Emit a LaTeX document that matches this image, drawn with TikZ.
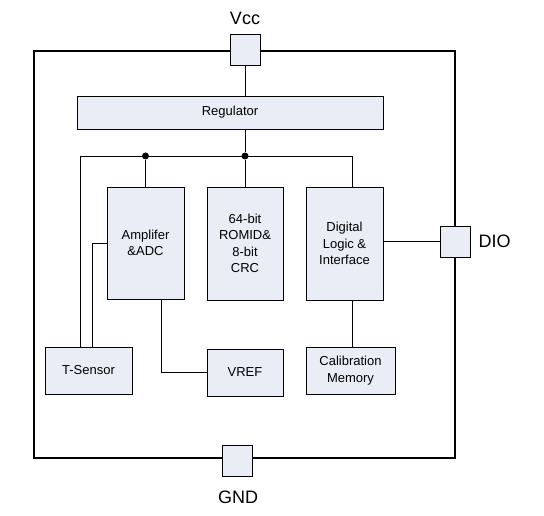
\documentclass[tikz,border=0pt]{standalone}
\usepackage{fontspec}
\setmainfont{Liberation Sans}
\usepackage{tikz}
\usetikzlibrary{positioning,calc}
\definecolor{boxfill}{HTML}{E9EDF6}

\begin{document}
\begin{tikzpicture}[x = 1pt, y = -1pt,
    block/.style = {draw, fill = boxfill, line width = .9pt, align = center, inner sep = 0pt, font = \fontsize{13}{16.5}\selectfont},
    pad/.style = {draw, fill = boxfill, line width = .9pt, minimum width = 30pt, minimum height = 31pt, inner sep = 0pt},
    pin/.style = {font = \fontsize{18}{20}\selectfont},
    wire/.style = {line width = .8pt},
    junction/.style = {circle, fill, inner sep = 0pt, minimum size = 7pt}]
    \useasboundingbox (0,0) rectangle (544,516);
    % chip outline
    \draw[line width = 2.6pt] (34,51) rectangle (455,458);
    % pads
    \node[pad] (vcc) at (245,50) {};
    \node[pad] (dio) at (455,241.5) {};
    \node[pad] (gnd) at (237.5,461) {};
    \node[pin] (vcclabel) at (245,18) {Vcc};
    \node[pin, anchor = west] (diolabel) at (475,241.5) {DIO};
    \node[pin] (gndlabel) at (238,497) {GND};
    % blocks
    \node[block, minimum width = 306pt, minimum height = 33pt] (reg) at (230,112.5) {Regulator};
    \node[block, minimum width = 77pt, minimum height = 112pt] (amp) at (145.5,243) {Amplifer\\\&ADC};
    \node[block, minimum width = 76pt, minimum height = 113pt] (rom) at (245,243.5) {64-bit\\ROMID\&\\8-bit\\CRC};
    \node[block, minimum width = 77pt, minimum height = 113pt] (dig) at (344.5,243.5) {Digital\\Logic \&\\Interface};
    \node[block, minimum width = 87pt, minimum height = 47pt] (tsen) at (88.5,370.5) {T-Sensor};
    \node[block, minimum width = 76pt, minimum height = 47pt] (vref) at (245,372.5) {VREF};
    \node[block, minimum width = 89pt, minimum height = 47pt] (cal) at (350.5,370.5) {Calibration\\Memory};
    % supply bus
    \coordinate (busL) at (80,156);
    \coordinate (busR) at (352,156);
    \node[junction] (jamp) at (amp.north |- busL) {};
    \node[junction] (jrom) at (rom.north |- busL) {};
    \draw[wire] (vcc.south) -- (vcc.south |- reg.north);
    \draw[wire] (reg.south -| jrom) -- (jrom);
    \draw[wire] (busL) -- (busR);
    \draw[wire] (jamp) -- (amp.north);
    \draw[wire] (jrom) -- (rom.north);
    \draw[wire] (busR) -- (busR |- dig.north);
    \draw[wire] (busL) -- (busL |- tsen.north);
    % signals
    \draw[wire] (tsen.north -| 92,0) |- (amp.west);
    \draw[wire] (amp.south -| 161,0) |- (vref.west);
    \draw[wire] (dig.east |- dio.west) -- (dio.west);
    \draw[wire] (dig.south -| busR) -- (busR |- cal.north);
\end{tikzpicture}
\end{document}
